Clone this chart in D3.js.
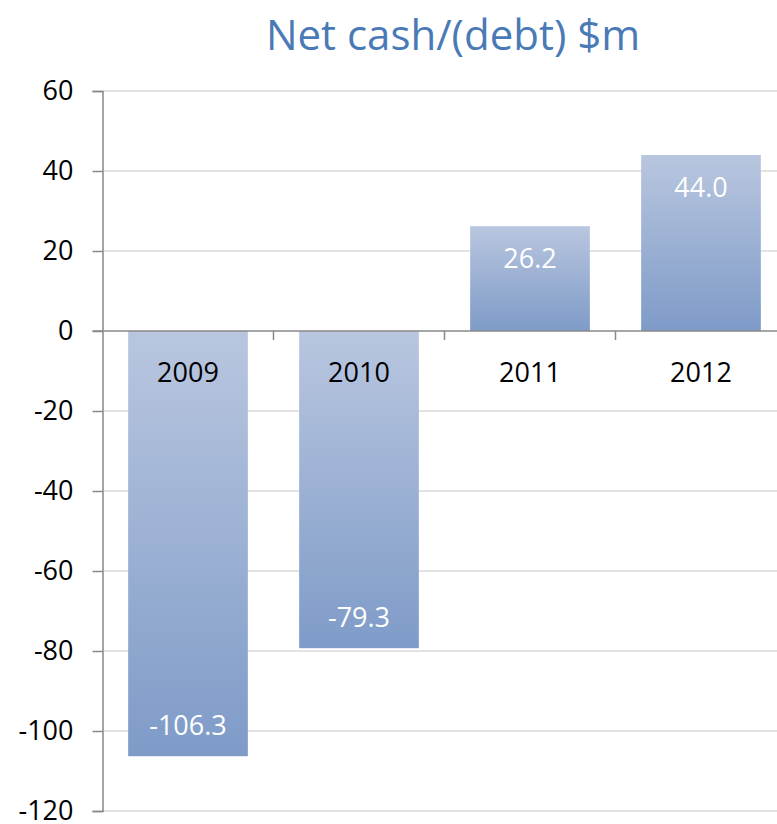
<!DOCTYPE html>
<html>
<head>
<meta charset="utf-8">
<script src="https://cdn.jsdelivr.net/npm/d3@7"></script>
<style>
  html, body { margin: 0; padding: 0; background: #fff; }
  svg { display: block; }
  text { font-family: "Open Sans", "Noto Sans", sans-serif; }
</style>
</head>
<body>
<svg id="chart" width="777" height="824"></svg>
<script>
// Net cash / (debt), $m, by year
const years = ["2009", "2010", "2011", "2012"];
const netCash = [-106.3, -79.3, 26.2, 44.0];
const yTicks = [60, 40, 20, 0, -20, -40, -60, -80, -100, -120];
const titleText = "Net cash/(debt) $m";

const W = 777, H = 824;
const plot = { left: 102.5, right: 786.5, top: 91, bottom: 811 };

const svg = d3.select("#chart");

// plain hyphen for negatives
const hyphen = s => s.replace("\u2212", "-");
const fmtInt = d => hyphen(d3.format("d")(d));
const fmtVal = d => hyphen(d3.format(".1f")(d));

const x = d3.scaleBand()
  .domain(years)
  .range([plot.left, plot.right])
  .paddingInner(0.3)
  .paddingOuter(0.15);

const y = d3.scaleLinear()
  .domain([-120, 60])
  .range([plot.bottom, plot.top]);

// Bar fill: lighter at the top, deeper blue toward the bottom
const defs = svg.append("defs");
const grad = defs.append("linearGradient")
  .attr("id", "barFill")
  .attr("x1", 0).attr("y1", 0).attr("x2", 0).attr("y2", 1);
grad.append("stop").attr("offset", "0%").attr("stop-color", "#b9c6df");
grad.append("stop").attr("offset", "100%").attr("stop-color", "#7e9bc8");

// Horizontal gridlines
svg.append("g")
  .selectAll("line")
  .data(yTicks.filter(d => d !== 0))
  .join("line")
  .attr("x1", plot.left).attr("x2", W)
  .attr("y1", d => y(d)).attr("y2", d => y(d))
  .attr("stroke", "#dadada")
  .attr("stroke-width", 1.5);

// Value axis
const yAxis = d3.axisLeft(y)
  .tickValues(yTicks)
  .tickSize(10)
  .tickPadding(19)
  .tickFormat(fmtInt);

const gy = svg.append("g")
  .attr("transform", `translate(${plot.left},0)`)
  .call(yAxis);
gy.select(".domain").attr("stroke", "#888").attr("stroke-width", 1.5);
gy.selectAll(".tick line").attr("stroke", "#888").attr("stroke-width", 1.5);
gy.selectAll(".tick text")
  .attr("fill", "#000")
  .style("font-size", "27px")
  .style("font-family", "'Open Sans', sans-serif");

// Bars
svg.append("g")
  .selectAll("rect")
  .data(years.map((yr, i) => ({ yr, v: netCash[i] })))
  .join("rect")
  .attr("x", d => x(d.yr))
  .attr("width", x.bandwidth())
  .attr("y", d => y(Math.max(0, d.v)))
  .attr("height", d => Math.abs(y(d.v) - y(0)))
  .attr("fill", "url(#barFill)");

// Category axis along zero
const xAxis = d3.axisBottom(x).tickSize(0).tickPadding(0).tickFormat("");
const gx = svg.append("g")
  .attr("transform", `translate(0,${y(0)})`)
  .call(xAxis);
gx.select(".domain").remove();
gx.append("line")
  .attr("x1", plot.left - 10).attr("x2", W)
  .attr("y1", 0).attr("y2", 0)
  .attr("stroke", "#888").attr("stroke-width", 1.5);
// tick marks at band boundaries
const step = x.step();
const boundaries = years.slice(1).map(yr => x(yr) - (step - x.bandwidth()) / 2);
gx.selectAll("line.sep")
  .data(boundaries)
  .join("line")
  .attr("class", "sep")
  .attr("x1", d => d).attr("x2", d => d)
  .attr("y1", 0).attr("y2", 9)
  .attr("stroke", "#888").attr("stroke-width", 1.5);

// Category labels
svg.append("g")
  .selectAll("text")
  .data(years)
  .join("text")
  .attr("x", d => x(d) + x.bandwidth() / 2)
  .attr("y", y(0) + 51)
  .attr("text-anchor", "middle")
  .attr("fill", "#000")
  .style("font-size", "27px")
  .text(d => d);

// Value labels inside bar ends
svg.append("g")
  .selectAll("text")
  .data(years.map((yr, i) => ({ yr, v: netCash[i] })))
  .join("text")
  .attr("x", d => x(d.yr) + x.bandwidth() / 2)
  .attr("y", d => d.v >= 0 ? y(d.v) + 42 : y(d.v) - 21)
  .attr("text-anchor", "middle")
  .attr("fill", "#fff")
  .style("font-size", "27px")
  .text(d => fmtVal(d.v));

// Title
svg.append("text")
  .attr("x", 453)
  .attr("y", 50)
  .attr("text-anchor", "middle")
  .attr("fill", "#4a7ab6")
  .style("font-size", "42px")
  .text(titleText);
</script>
</body>
</html>
